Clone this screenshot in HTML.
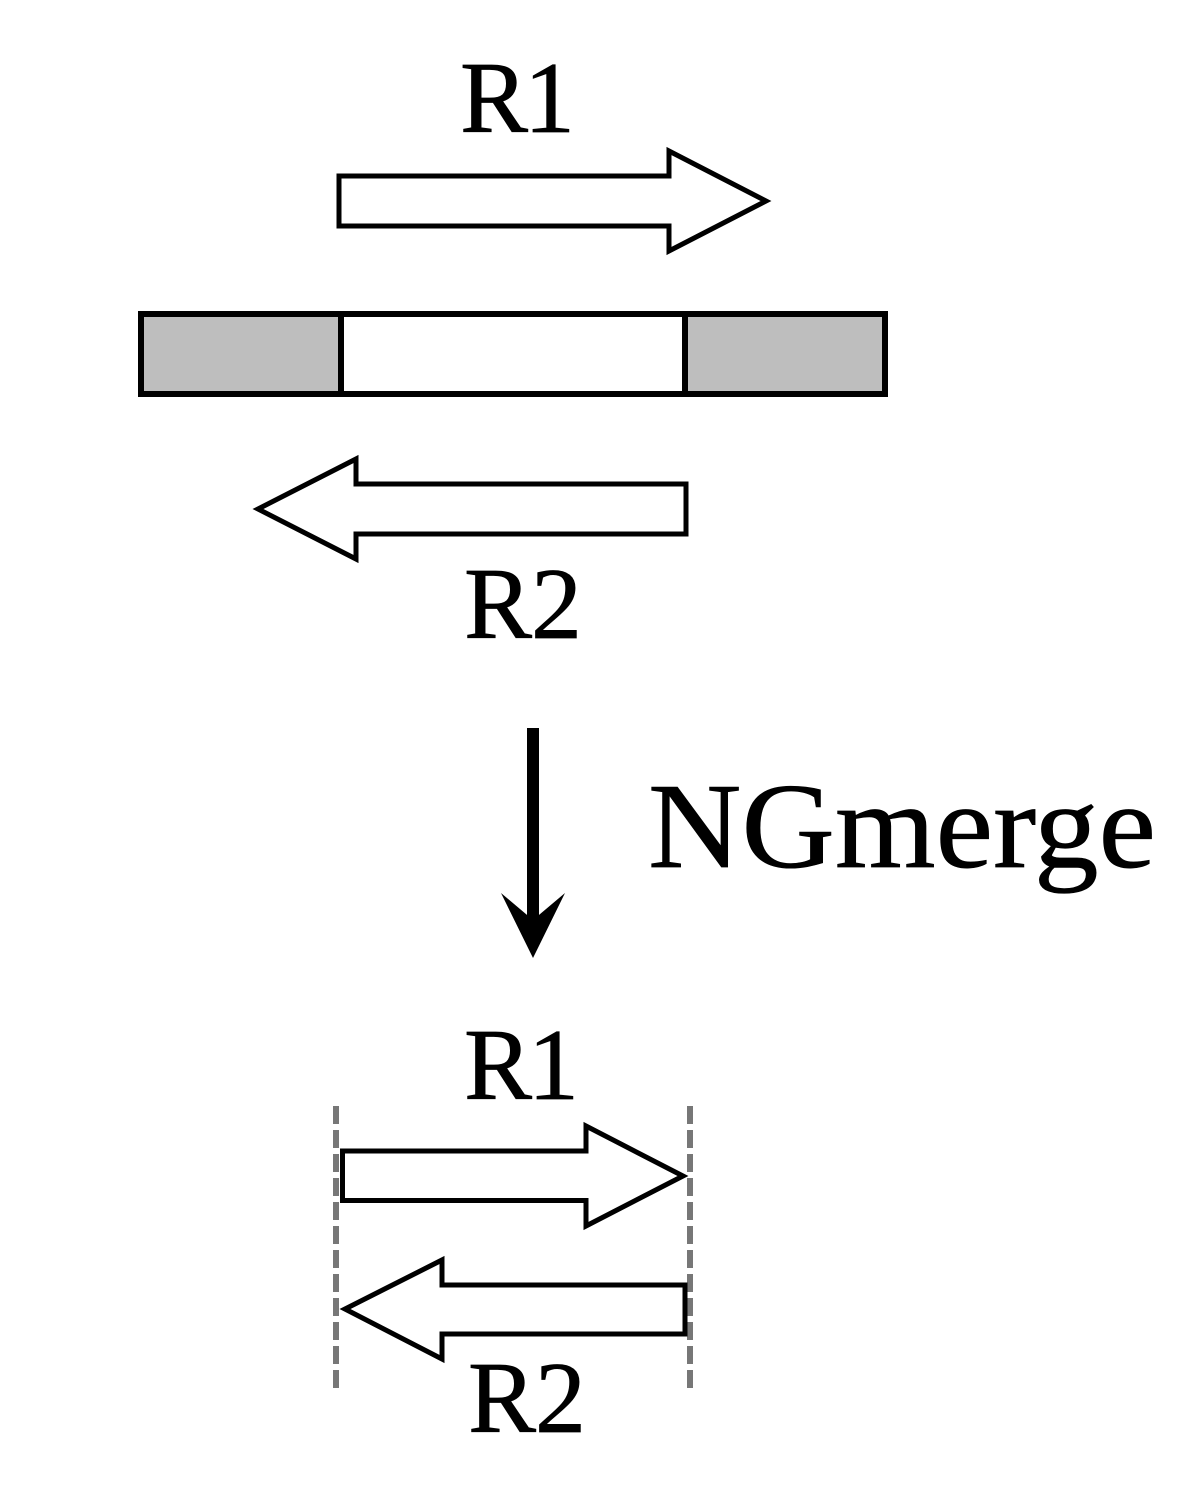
<!DOCTYPE html>
<html>
<head>
<meta charset="utf-8">
<style>
html,body{margin:0;padding:0;background:#fff;}
svg{display:block;}
text{font-family:"Liberation Serif",serif;fill:#000;stroke:#000;stroke-width:.7;}
</style>
</head>
<body>
<svg width="1200" height="1500" viewBox="0 0 1200 1500" xmlns="http://www.w3.org/2000/svg">
<rect width="1200" height="1500" fill="#fff"/>
<text x="460 524" y="132" font-size="102">R1</text>
<polygon points="339,176 669,176 669,151 766,201 669,251 669,226 339,226" fill="#fff" stroke="#000" stroke-width="5"/>
<rect x="141" y="314" width="744" height="80" fill="#fff" stroke="#000" stroke-width="6"/>
<rect x="144" y="317" width="197" height="74" fill="#bebebe"/>
<rect x="685" y="317" width="197" height="74" fill="#bebebe"/>
<line x1="341" y1="314" x2="341" y2="394" stroke="#000" stroke-width="6"/>
<line x1="685" y1="314" x2="685" y2="394" stroke="#000" stroke-width="6"/>
<polygon points="686,484 356,484 356,459 258,509 356,559 356,534 686,534" fill="#fff" stroke="#000" stroke-width="5"/>
<text x="464 531" y="638" font-size="102">R2</text>
<rect x="527" y="728" width="12" height="200" fill="#000"/>
<polygon points="501,893 533,920 565,893 533,958" fill="#000"/>
<text x="648" y="867" font-size="122" textLength="508" lengthAdjust="spacingAndGlyphs">NGmerge</text>
<text x="464 528" y="1099" font-size="102">R1</text>
<line x1="336" y1="1106" x2="336" y2="1388" stroke="#777" stroke-width="6" stroke-dasharray="18 6"/>
<line x1="690" y1="1106" x2="690" y2="1388" stroke="#777" stroke-width="6" stroke-dasharray="18 6"/>
<polygon points="342.5,1151 586,1151 586,1126 683,1176 586,1226 586,1200.5 342.5,1200.5" fill="#fff" stroke="#000" stroke-width="5"/>
<polygon points="685,1285 442,1285 442,1260 345,1309 442,1359 442,1334 685,1334" fill="#fff" stroke="#000" stroke-width="5"/>
<text x="468 535" y="1432" font-size="102">R2</text>
</svg>
</body>
</html>
